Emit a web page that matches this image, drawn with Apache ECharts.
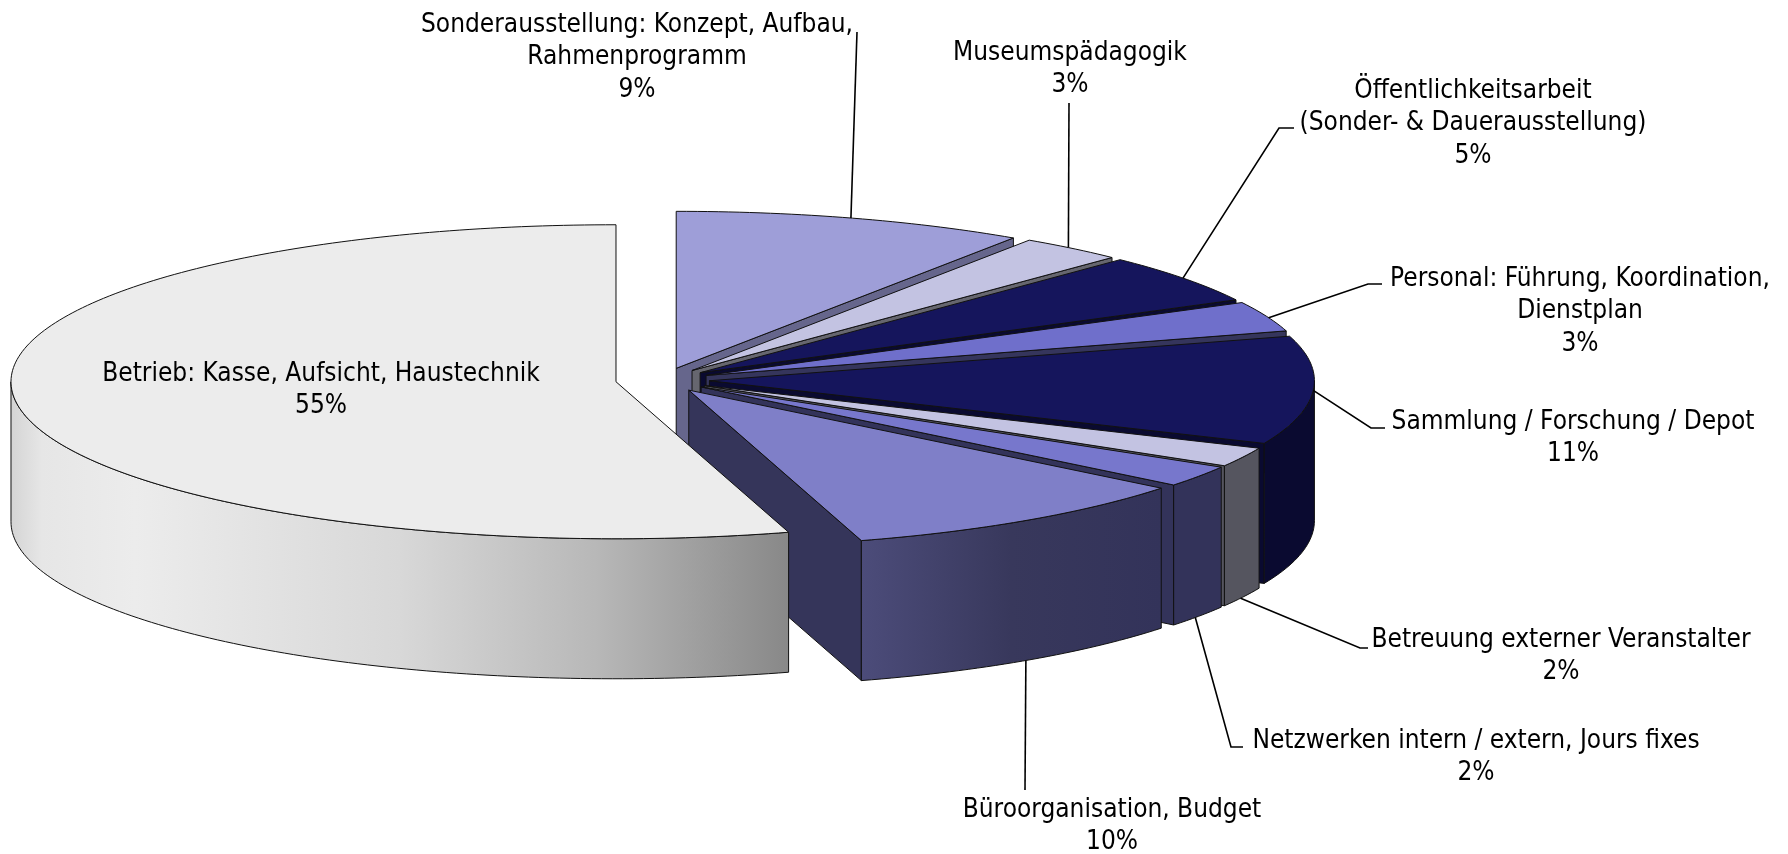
<!DOCTYPE html>
<html>
<head>
<meta charset="utf-8">
<title>Arbeitszeit</title>
<script src="https://cdn.jsdelivr.net/npm/echarts@6/dist/echarts.min.js"></script>
<style>
  html, body { margin: 0; background: #fff; }
  #chart { width: 1788px; height: 854px; }
</style>
</head>
<body>
<div id="chart"></div>
<script>
const categories = [
  'Sonderausstellung: Konzept, Aufbau,\nRahmenprogramm',
  'Museumspädagogik',
  'Öffentlichkeitsarbeit\n(Sonder- & Dauerausstellung)',
  'Personal: Führung, Koordination,\nDienstplan',
  'Sammlung / Forschung / Depot',
  'Betreuung externer Veranstalter',
  'Netzwerken intern / extern, Jours fixes',
  'Büroorganisation, Budget',
  'Betrieb: Kasse, Aufsicht, Haustechnik'
]
const shares = [9.4, 2.8, 5.1, 3.1, 11.1, 2.0, 2.2, 9.65, 54.55]

// look of the slices
const topColors = ['#9e9ed8', '#c3c3e2', '#15155c', '#6f6fcb', '#15155c', '#c3c3e2', '#7777cc', '#7f7fc8', '#ececec']
const sideColors = ['#66668c', '#66666f', '#0a0a30', '#35355c', '#0a0a30', '#55555f', '#33335a', '#35355a', '#888888']
const rimStops = {
  7: [[0, '#4c4c7a'], [0.5, '#38385c'], [1, '#33335a']],
  8: [[0, '#d4d4d4'], [0.04, '#e6e6e6'], [0.16, '#ececec'], [0.5, '#d8d8d8'], [0.75, '#b8b8b8'], [1, '#888888']]
}

// layout of the squashed pie, in pixels
const cx = 662.5
const cy = 380
const rx = 605
const ry = 157
const depth = 140
const explode = 47

// where the labels sit: text centre and the elbow of the leader line
const labelCentres = [[637, 25], [1070, 53], [1473, 91], [1580, 279], [1573, 422], [1561, 640], [1476, 741], [1112, 810], [321, 374]]
const leaderElbows = [
  [[857, 32]],
  [[1069, 103]],
  [[1279, 128], [1294, 128]],
  [[1368, 284], [1382, 284]],
  [[1371, 428], [1385, 428]],
  [[1360, 648], [1368, 648]],
  [[1231, 747], [1243, 747]],
  [[1025, 790]],
  null
]
// leaders do not leave exactly at the middle of the slice
const leaderTurn = [-0.15, -0.45, -0.2, 0.5, 0, 0.45, 0.55, 0.1, 0]

const lineHeight = 32.5
const rad = (deg) => deg * Math.PI / 180

// start and end angle of every slice, clockwise from the top
const total = shares.reduce((a, b) => a + b, 0)
let running = 0
const angles = shares.map(v => {
  const start = running
  running += v / total * 360
  return [start, running]
})

const centreOf = (i) => {
  const mid = rad((angles[i][0] + angles[i][1]) / 2)
  return [cx + explode * Math.sin(mid), cy - explode * Math.cos(mid) * ry / rx]
}

const onRim = (c, deg, dy) => [c[0] + rx * Math.sin(rad(deg)), c[1] - ry * Math.cos(rad(deg)) + (dy || 0)]

const arc = (c, from, to, dy) => {
  const pts = []
  const steps = Math.max(2, Math.ceil(Math.abs(to - from)))
  for (let k = 0; k <= steps; k++) {
    pts.push(onRim(c, from + (to - from) * k / steps, dy))
  }
  return pts
}

const edge = { stroke: '#111', lineWidth: 1 }

const renderSlice = (params, api) => {
  const i = api.value(0)
  const [start, end] = angles[i]
  const c = centreOf(i)
  const children = []

  // the cut face at the end of the slice faces us on the right hand half
  if (end < 180) {
    const p = onRim(c, end)
    children.push({
      type: 'polygon',
      shape: { points: [c, p, [p[0], p[1] + depth], [c[0], c[1] + depth]] },
      style: { fill: sideColors[i], ...edge }
    })
  }

  // outer wall, only the part turned to the viewer
  const from = Math.max(start, 90)
  const to = Math.min(end, 270)
  if (from < to) {
    const fill = rimStops[i]
      ? new echarts.graphic.LinearGradient(0, 0, 1, 0, rimStops[i].map(s => ({ offset: s[0], color: s[1] })))
      : sideColors[i]
    children.push({
      type: 'polygon',
      shape: { points: arc(c, from, to, 0).concat(arc(c, to, from, depth)) },
      style: { fill, ...edge }
    })
  }

  children.push({
    type: 'polygon',
    shape: { points: [c].concat(arc(c, start, end, 0)) },
    style: { fill: topColors[i], ...edge }
  })
  return { type: 'group', children }
}

const renderLabel = (params, api) => {
  const i = api.value(0)
  const children = []
  const elbows = leaderElbows[i]
  if (elbows) {
    const mid = (angles[i][0] + angles[i][1]) / 2
    const anchor = onRim(centreOf(i), mid + leaderTurn[i], mid > 100 ? depth : 0)
    children.push({
      type: 'polyline',
      shape: { points: [anchor].concat(elbows) },
      style: { fill: null, stroke: '#000', lineWidth: 1.6 }
    })
  }
  children.push({
    type: 'text',
    style: {
      x: labelCentres[i][0],
      y: labelCentres[i][1] + lineHeight * categories[i].split('\n').length / 2,
      text: categories[i] + '\n' + Math.round(api.value(1)) + '%',
      align: 'center',
      verticalAlign: 'middle',
      fill: '#000',
      font: '26px "DejaVu Sans Condensed", "DejaVu Sans"',
      lineHeight
    }
  })
  return { type: 'group', children }
}

const chartData = shares.map((v, i) => [i, v])

const myChart = echarts.init(document.getElementById('chart'), null, { renderer: 'canvas' })
myChart.setOption({
  animation: false,
  backgroundColor: '#fff',
  series: [
    { type: 'custom', coordinateSystem: 'none', renderItem: renderSlice, data: chartData, silent: true, z: 2 },
    { type: 'custom', coordinateSystem: 'none', renderItem: renderLabel, data: chartData, silent: true, z: 3 }
  ]
})
</script>
</body>
</html>
